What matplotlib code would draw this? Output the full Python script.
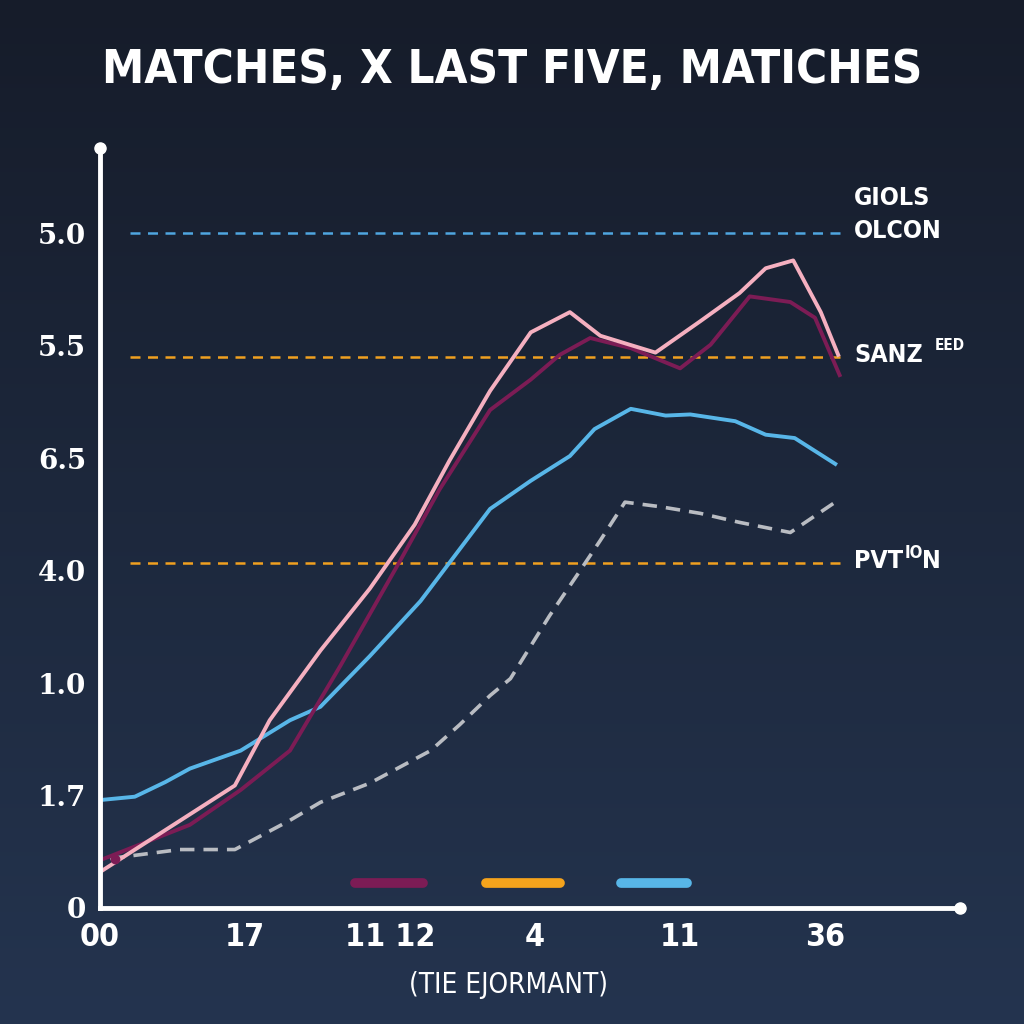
import numpy as np
import matplotlib
matplotlib.use("Agg")
import matplotlib.pyplot as plt
from matplotlib import font_manager

# tick labels as printed on the chart (evenly spaced positions)
y_labels = ["0", "1.7", "1.0", "4.0", "6.5", "5.5", "5.0"]
x_labels = ["00", "17", "11 12", "4", "11", "36"]

# series, in tick-position units
pink_x = [0.0, 0.93, 1.17, 1.52, 1.86, 2.17, 2.41, 2.69, 2.97, 3.24, 3.45, 3.83, 4.14, 4.41, 4.59, 4.78, 4.97, 5.09]
pink_y = [0.32, 1.09, 1.67, 2.29, 2.84, 3.41, 3.98, 4.60, 5.12, 5.30, 5.09, 4.94, 5.22, 5.47, 5.69, 5.76, 5.30, 4.92]

plum_x = [0.03, 0.62, 0.97, 1.31, 1.66, 2.07, 2.34, 2.69, 2.97, 3.17, 3.38, 3.66, 4.0, 4.21, 4.48, 4.76, 4.93, 5.10]
plum_y = [0.44, 0.74, 1.05, 1.40, 2.16, 3.09, 3.72, 4.43, 4.70, 4.92, 5.07, 4.98, 4.80, 5.01, 5.44, 5.39, 5.25, 4.74]

blue_x = [0.0, 0.24, 0.45, 0.62, 0.97, 1.31, 1.52, 1.86, 2.21, 2.69, 2.97, 3.24, 3.41, 3.66, 3.90, 4.07, 4.38, 4.59, 4.79, 5.07]
blue_y = [0.96, 0.99, 1.12, 1.24, 1.40, 1.67, 1.79, 2.24, 2.73, 3.55, 3.80, 4.02, 4.26, 4.44, 4.38, 4.39, 4.33, 4.21, 4.18, 3.95]

gray_x = [0.07, 0.55, 0.93, 1.31, 1.52, 1.86, 2.28, 2.48, 2.69, 2.83, 3.10, 3.31, 3.45, 3.62, 3.86, 4.14, 4.41, 4.76, 5.07]
gray_y = [0.44, 0.52, 0.52, 0.78, 0.94, 1.11, 1.40, 1.63, 1.89, 2.04, 2.60, 3.00, 3.27, 3.61, 3.57, 3.51, 3.43, 3.34, 3.61]

ref_levels = [6.0, 4.9, 3.07]
ref_colors = ["#4fa6e0", "#f0a020", "#f0a020"]
ref_names = ["GIOLS\nOLCON", "SANZ", "PVT"]

BG_TOP = "#161c2a"
BG_BOT = "#24344f"
TEXT = "white"

# condensed face if the system has one, otherwise plain DejaVu a bit smaller
have_cond = any(f.name == "DejaVu Sans" and f.stretch == "condensed"
                for f in font_manager.fontManager.ttflist)
NARROW = dict(family="DejaVu Sans", fontstretch="condensed")
k = 1.0 if have_cond else 0.88

fig = plt.figure(figsize=(10.24, 10.24), dpi=100)

# background gradient
bg = fig.add_axes([0, 0, 1, 1], zorder=-10)
grad = np.linspace(0, 1, 256).reshape(-1, 1)
cmap = matplotlib.colors.LinearSegmentedColormap.from_list("bg", [BG_TOP, BG_BOT])
bg.imshow(grad, aspect="auto", cmap=cmap, extent=[0, 1, 0, 1])
bg.axis("off")

ax = fig.add_axes([100 / 1024, 1 - 908 / 1024, 860 / 1024, 760 / 1024])
ax.patch.set_alpha(0)
ax.set_xlim(0, 5.93)
ax.set_ylim(0, 6.76)

for s in ["top", "right"]:
    ax.spines[s].set_visible(False)
for s in ["left", "bottom"]:
    ax.spines[s].set_color("white")
    ax.spines[s].set_linewidth(3.5)
ax.plot([0], [6.76], "o", color="white", ms=8, clip_on=False)
ax.plot([5.93], [0], "o", color="white", ms=8, clip_on=False)

ax.set_yticks(range(len(y_labels)))
ax.set_yticklabels(y_labels)
ax.set_xticks(range(len(x_labels)))
ax.set_xticklabels(x_labels)
ax.tick_params(length=0, colors=TEXT)
for lab in ax.get_yticklabels():
    lab.set_fontsize(20)
    lab.set_fontweight("bold")
    lab.set_family("DejaVu Serif")
ax.tick_params(axis="y", pad=10)
for lab in ax.get_xticklabels():
    lab.set_fontsize(23 * k)
    lab.set_fontweight("bold")
    lab.set_family("DejaVu Sans")
    lab.set_fontstretch("condensed")
ax.tick_params(axis="x", pad=10)

# reference dashed lines
for lvl, c in zip(ref_levels, ref_colors):
    ax.plot([0.21, 5.1], [lvl, lvl], color=c, lw=1.8, ls=(0, (4, 3)))

ax.plot(gray_x, gray_y, color="#b9bcc2", lw=2.6, ls=(0, (4, 2.5)))
ax.plot(blue_x, blue_y, color="#58b6e8", lw=2.8)
ax.plot(plum_x, plum_y, color="#7c1c55", lw=2.8)
ax.plot(pink_x, pink_y, color="#f5b0c0", lw=2.8)
ax.plot([0.1], [0.44], "o", color="#7c1c55", ms=6)

# right side labels
side = dict(color=TEXT, fontsize=18 * k, fontweight="bold", **NARROW)
ax.text(5.2, 6.17, ref_names[0], va="center", ha="left", linespacing=1.45, **side)
ax.text(5.2, 4.92, ref_names[1], va="center", ha="left", **side)
ax.annotate("EED", xy=(5.2, 4.92), xytext=(58 * k, 1), textcoords="offset points",
            va="bottom", color=TEXT, fontsize=11 * k, fontweight="bold", **NARROW)
ax.text(5.2, 3.09, ref_names[2], va="center", ha="left", **side)
ax.annotate("IO", xy=(5.2, 3.09), xytext=(36 * k, -1), textcoords="offset points",
            va="bottom", color=TEXT, fontsize=12 * k, fontweight="bold", **NARROW)
ax.annotate("N", xy=(5.2, 3.09), xytext=(49 * k, 0), textcoords="offset points",
            va="center", color=TEXT, fontsize=18 * k, fontweight="bold", **NARROW)

# legend swatches
sw_colors = ["#7c1c55", "#f5a31c", "#58b6e8"]
sw_x = [(1.76, 2.23), (2.66, 3.17), (3.59, 4.05)]
for (a, b), c in zip(sw_x, sw_colors):
    ax.plot([a, b], [0.22, 0.22], color=c, lw=7, solid_capstyle="round")

fig.text(0.5, 1 - 70 / 1024, "MATCHES, X LAST FIVE, MATICHES", color=TEXT,
         fontsize=34 if have_cond else 30, fontweight="bold", ha="center", va="center", **NARROW)
fig.text(0.497, 1 - 985 / 1024, "(TIE EJORMANT)", color=TEXT, fontsize=20 * k,
         ha="center", va="center", **NARROW)

fig.savefig("out.png", dpi=100)
